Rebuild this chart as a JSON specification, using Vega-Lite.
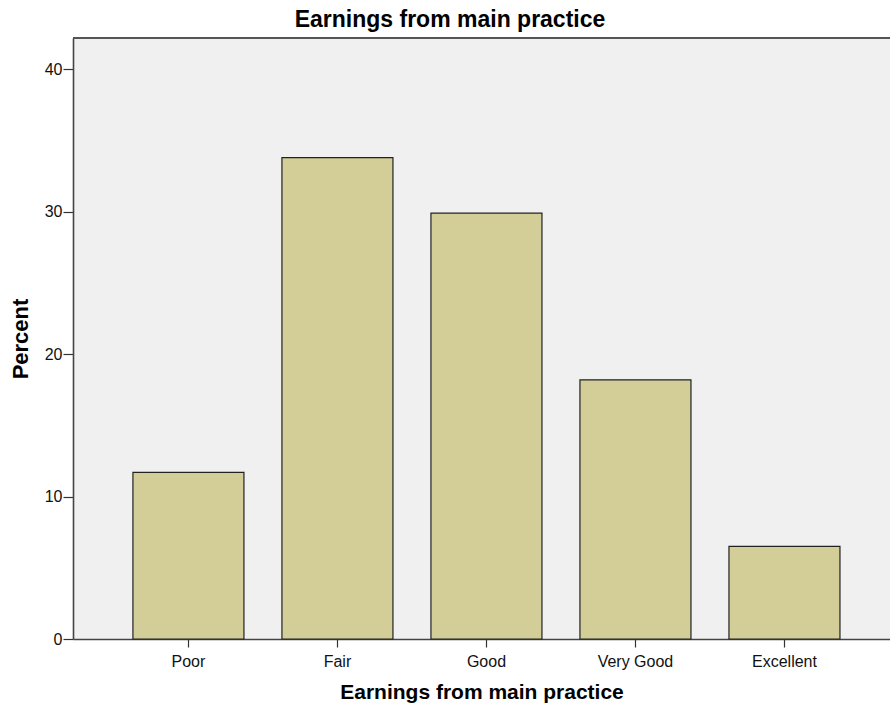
{
  "$schema": "https://vega.github.io/schema/vega-lite/v6.json",
  "autosize": "none",
  "width": 817,
  "height": 601,
  "padding": {"left": 73, "top": 38, "right": 0, "bottom": 74},
  "background": "white",
  "title": {
    "text": "Earnings from main practice",
    "font": "Liberation Sans",
    "fontSize": 23,
    "fontWeight": "bold",
    "color": "black",
    "anchor": "middle",
    "frame": "bounds",
    "offset": 5
  },
  "config": {
    "view": {"fill": "#F0F0F0", "stroke": null},
    "axis": {
      "labelFont": "Liberation Sans",
      "labelFontSize": 16,
      "labelColor": "#111111",
      "titleFont": "Liberation Sans",
      "titleFontWeight": "bold",
      "titleColor": "black",
      "domainColor": "#444444",
      "domainWidth": 1.6,
      "tickColor": "#333333",
      "tickWidth": 1.2,
      "grid": false
    }
  },
  "data": {
    "values": [
      {"category": "Poor", "percent": 11.7},
      {"category": "Fair", "percent": 33.8},
      {"category": "Good", "percent": 29.9},
      {"category": "Very Good", "percent": 18.2},
      {"category": "Excellent", "percent": 6.5}
    ]
  },
  "encoding": {
    "x": {
      "field": "category",
      "type": "nominal",
      "sort": ["Poor", "Fair", "Good", "Very Good", "Excellent"],
      "title": "Earnings from main practice",
      "scale": {"paddingInner": 0.255, "paddingOuter": 0.369, "align": 0.545},
      "axis": {"labelAngle": 0, "tickSize": 8, "labelPadding": 6, "titlePadding": 12, "titleFontSize": 21}
    },
    "y": {
      "field": "percent",
      "type": "quantitative",
      "title": "Percent",
      "scale": {"domain": [0, 42.2], "nice": false},
      "axis": {"values": [0, 10, 20, 30, 40], "tickSize": 10, "labelPadding": 1, "titlePadding": 12, "titleFontSize": 22}
    }
  },
  "layer": [
    {
      "mark": {"type": "bar", "fill": "#D3CE97", "stroke": "#222222", "strokeWidth": 1.2}
    },
    {
      "mark": {"type": "rule", "color": "#555555", "strokeWidth": 1.6},
      "encoding": {
        "y": {"datum": 42.2},
        "x": null
      }
    }
  ]
}
